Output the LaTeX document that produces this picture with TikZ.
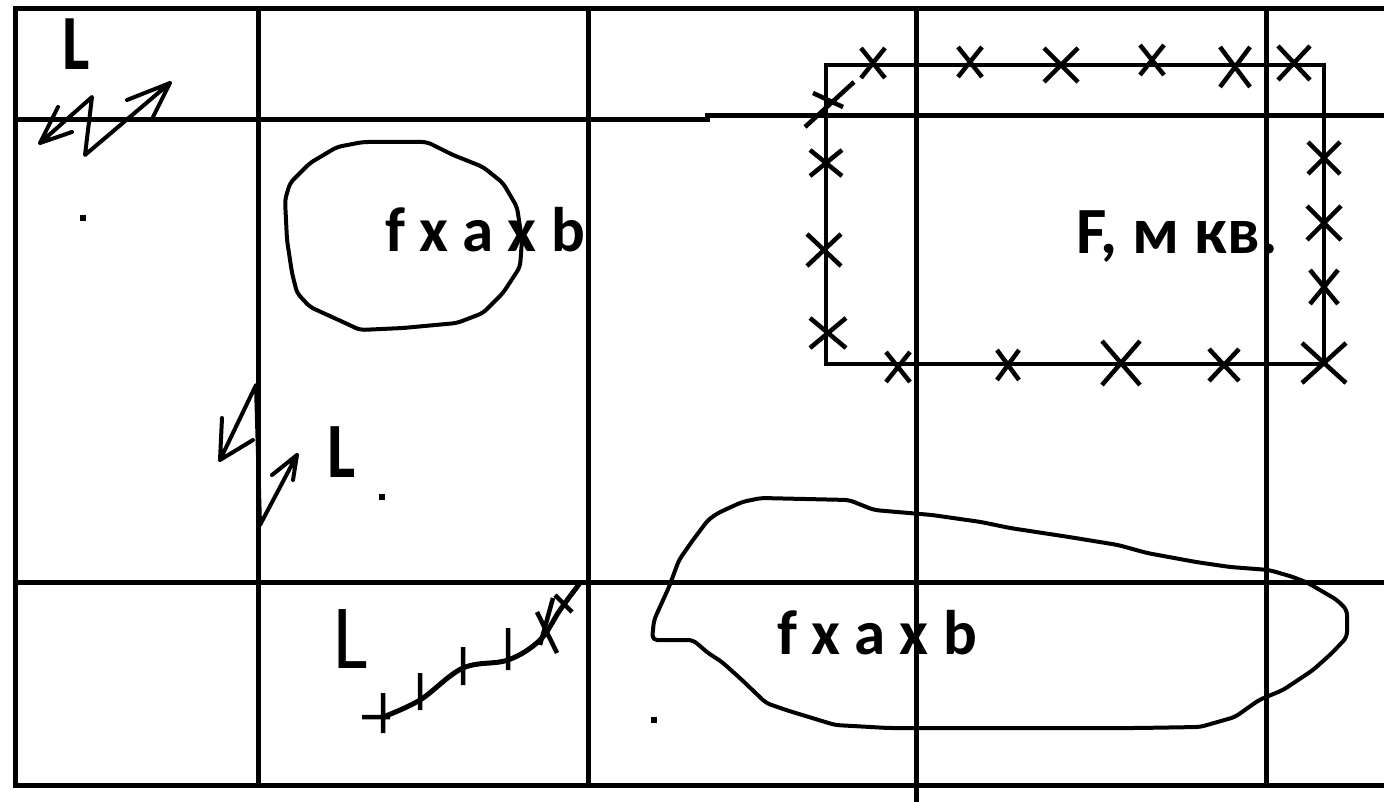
\documentclass[tikz,border=0pt]{standalone}
\usepackage{fontspec}
\setmainfont{Carlito}
\begin{document}
\begin{tikzpicture}[x=1pt,y=-1pt,
  gridline/.style={line width=5pt,line cap=rect},
  outline/.style={line width=4pt,line join=round,rounded corners=5pt},
  fencex/.style={line width=4.5pt},
  bolt/.style={line width=4pt,line join=round,line cap=round},
  areatext/.style={font=\bfseries\fontsize{63}{66}\selectfont,inner sep=0pt,anchor=base west},
  linetext/.style={inner sep=0pt,anchor=base west}]
\useasboundingbox (0,0) rectangle (1384,802);
\fill[white] (0,0) rectangle (1384,802);
\draw[gridline] (1384,9)--(15,9)--(15,785)--(1384,785);
\draw[gridline] (15,120)--(707,120) (707,116)--(1384,116) (15,582)--(1384,582);
\draw[gridline] (258,9)--(258,785) (588,9)--(588,785) (916,9)--(916,802) (1266,9)--(1266,785);
\draw[outline] (285,200)--(290,183)--(310,163)--(337,147)--(363,142)--(427,142)--(453,155)--(483,167)--(503,183)--(517,207)--(522,240)--(520,267)--(503,293)--(483,313)--(457,323)--(403,328)--(360,330)--(343,322)--(310,307)--(297,293)--(292,273)--(287,240)--cycle;
\draw[outline] (652,640)--(693,640)--(708,653)--(722,662)--(742,680)--(766,703)--(786,710)--(835,725)--(888,728)--(1137,728)--(1200,727)--(1235,717)--(1259,700)--(1283,690)--(1313,670)--(1332,653)--(1347,637)--(1347,610)--(1337,600)--(1308,583)--(1293,577)--(1269,570)--(1230,567)--(1196,562)--(1147,553)--(1118,545)--(1069,537)--(1010,528)--(981,522)--(932,515)--(874,510)--(849,500)--(761,498)--(742,502)--(718,513)--(708,520)--(693,540)--(679,560)--(669,587)--(654,620)--cycle;
\draw[line width=4.5pt] (826,65) rectangle (1324,364);
\foreach \cx/\cy/\dx/\dy in {873/63/12/15,970/62/12/15,1061/65/17/17,1152/60/12/15,1235/67/15/20,1294/63/16/17,
  826/163/16/13,824/250/17/16,828/333/18/15,898/367/12/15,1008/365/11/15,1121/363/19/22,1224/365/15/16,
  1324/363/22/20,1324/158/16/16,1324/223/17/17,1324/287/14/17}
  \draw[fencex] (\cx-\dx,\cy-\dy)--(\cx+\dx,\cy+\dy) (\cx+\dx,\cy-\dy)--(\cx-\dx,\cy+\dy);
\draw[fencex] (805,127)--(854,82) (813,93)--(843,107);
\node[areatext] (areaTop) at (385,252) {f x a x b};
\node[areatext] (areaBot) at (777,654) {f x a x b};
\node[areatext,font=\bfseries\fontsize{66}{70}\selectfont] (areaF) at (1076,254) {F, м кв.};
\node[linetext,font=\bfseries\fontsize{68}{70}\selectfont] (lineA) at (62,70) {\scalebox{0.95}[1.15]{L}};
\node[linetext,font=\bfseries\fontsize{70}{72}\selectfont] (lineB) at (327,477) {\scalebox{0.95}[1.12]{L}};
\node[linetext,font=\fontsize{82}{84}\selectfont] (lineC) at (333,668) {\scalebox{1}[1.12]{L}};
\draw[bolt] (127,100)--(170,83)--(153,117) (170,83)--(85,155)--(92,97)--(40,143) (58,107)--(40,143)--(72,132);
\draw[bolt] (222,418)--(220,460)--(253,440) (220,460)--(256,385)--(260,525)--(297,455) (272,475)--(297,455)--(293,480);
\draw[line width=5pt,line cap=round] plot[smooth,tension=0.6] coordinates {(383,717) (420,700) (463,668) (508,660) (540,640) (560,610) (580,583)};
\draw[fencex] (362,717)--(390,717) (383,693)--(383,733) (420,673)--(420,710) (463,647)--(463,685) (508,628)--(508,670)
  (537,612)--(557,653) (553,598)--(540,645) (555,595)--(572,612);
\coordinate (dotA) at (83,218);
\coordinate (dotB) at (382,497);
\coordinate (dotC) at (654,720);
\foreach \d in {dotA,dotB,dotC} \fill (\d) +(-3,-3) rectangle +(3,3);
\end{tikzpicture}
\end{document}
